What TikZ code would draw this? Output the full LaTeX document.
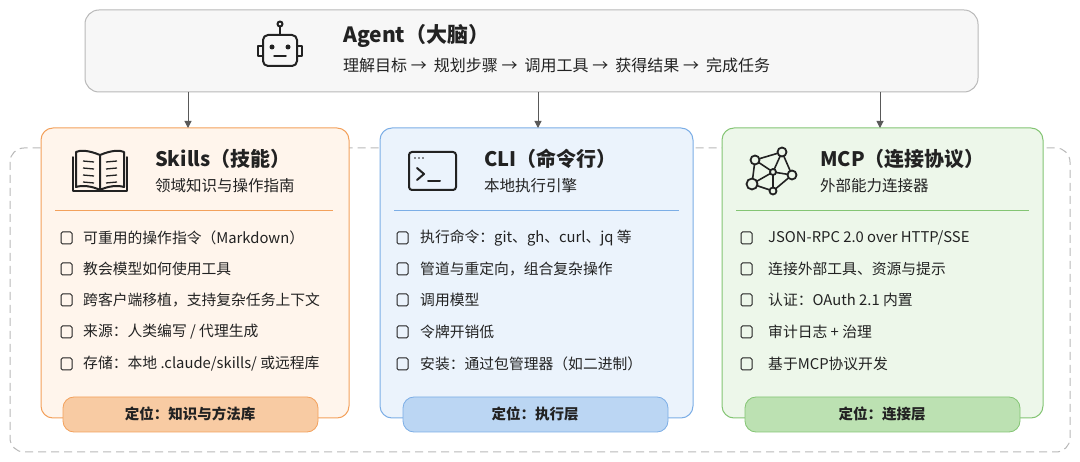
\documentclass[tikz,border=0pt]{standalone}
\usepackage{fontspec}
\setmainfont{Noto Sans CJK SC}
\usetikzlibrary{arrows.meta,positioning}
\definecolor{skillline}{HTML}{F3A15C}
\definecolor{skillfill}{HTML}{FFF5EC}
\definecolor{skillpill}{HTML}{F8CBA3}
\definecolor{cliline}{HTML}{7CAEE6}
\definecolor{clifill}{HTML}{EBF3FC}
\definecolor{clipill}{HTML}{BBD6F3}
\definecolor{mcpline}{HTML}{84C574}
\definecolor{mcpfill}{HTML}{EDF7EA}
\definecolor{mcppill}{HTML}{BCE1B2}
\definecolor{txt}{HTML}{222222}
\tikzset{
  card/.style={draw=#1line, fill=#1fill, rounded corners=12pt, line width=1pt},
  pill/.style={draw=#1line, fill=#1pill, rounded corners=11pt, line width=0.8pt},
  title/.style={anchor=west, font=\fontsize{20}{24}\selectfont\bfseries, text=txt, inner sep=0pt},
  sub/.style={anchor=west, font=\fontsize{15.5}{18}\selectfont, text=txt, inner sep=0pt},
  item/.style={anchor=west, font=\fontsize{14.8}{17}\selectfont, text=txt, inner sep=0pt},
  pilltxt/.style={font=\fontsize{14.5}{17}\selectfont\bfseries, text=txt, inner sep=0pt},
  ico/.style={draw=txt, line width=1pt, rounded corners=1.5pt},
  bigico/.style={draw=txt, line width=2pt, line cap=round, line join=round},
  feed/.style={-{Triangle[width=7pt,length=7pt]}, draw=gray!70!black, line width=1pt}
}
\begin{document}
\begin{tikzpicture}[x=1pt,y=-1pt]
\useasboundingbox (0,0) rectangle (1080,462);
\fill[white] (0,0) rectangle (1080,462);
% outer dashed frame
\draw[gray!55, dashed, dash pattern=on 8pt off 5pt, line width=1pt, rounded corners=14pt] (10,148) rectangle (1070,452);
% agent
\draw[fill=gray!6, draw=gray!55, line width=1pt, rounded corners=14pt] (85,10) rectangle (978,92);
\node (agent) at (531,51) {};
\draw[bigico, rounded corners=5pt] (263,35) rectangle (297,66);
\draw[bigico] (280,35) -- (280,27); \draw[bigico] (280,24) circle (2.5pt);
\draw[bigico] (263,46) -- (258,46) -- (258,56) -- (263,56);
\draw[bigico] (297,46) -- (302,46) -- (302,56) -- (297,56);
\fill[txt] (272,47) circle (2.5pt); \fill[txt] (288,47) circle (2.5pt);
\draw[bigico, line width=1.5pt] (274,56) -- (286,56);
\node[title, font=\fontsize{21}{25}\selectfont\bfseries] (agentT) at (343,36) {Agent（大脑）};
\node[sub, font=\fontsize{16}{19}\selectfont] (agentS) at (343,65) {理解目标\ → \ 规划步骤\ → \ 调用工具\ → \ 获得结果\ → \ 完成任务};
% cards
\draw[card=skill] (41,128) rectangle (349,418);
\draw[card=cli] (380,128) rectangle (693,418);
\draw[card=mcp] (722,128) rectangle (1043,418);
\coordinate (skillTop) at (188,128);
\coordinate (cliTop) at (538,128);
\coordinate (mcpTop) at (880,128);
\draw[feed] (188,92) -- (skillTop);
\draw[feed] (538,92) -- (cliTop);
\draw[feed] (880,92) -- (mcpTop);
\draw[skillline, line width=1pt] (55,211) -- (333,211);
\draw[cliline, line width=1pt] (394,211) -- (679,211);
\draw[mcpline, line width=1pt] (736,211) -- (1029,211);
% pills
\draw[pill=skill] (63,397) rectangle (318,432);
\draw[pill=cli] (403,397) rectangle (668,432);
\draw[pill=mcp] (745,397) rectangle (1020,432);
\node[pilltxt] (skillPos) at (190,414) {定位：知识与方法库};
\node[pilltxt] (cliPos) at (535,414) {定位：执行层};
\node[pilltxt] (mcpPos) at (882,414) {定位：连接层};
% big icons
\draw[bigico] (100,155) .. controls (88,150) and (80,150) .. (76,152) -- (76,187) .. controls (82,185) and (92,186) .. (100,190) .. controls (108,186) and (118,185) .. (124,187) -- (124,152) .. controls (120,150) and (112,150) .. (100,155) -- (100,190);
\draw[bigico, line width=1.5pt] (73,157) -- (73,191) -- (127,191) -- (127,157);
\foreach \yy in {161,168,175,182} {
  \draw[txt, line width=1.3pt] (83,\yy) -- (94,\yy+1);
  \draw[txt, line width=1.3pt] (106,\yy+1) -- (117,\yy);
}
\draw[bigico, rounded corners=3pt] (409,152) rectangle (456,190);
\foreach \xx in {415,419,423} \fill[txt] (\xx,158) circle (0.9pt);
\draw[bigico] (417,168) -- (424,174) -- (417,180);
\draw[bigico] (428,181) -- (440,181);
\coordinate (n1) at (755,160); \coordinate (n2) at (782,152); \coordinate (n3) at (792,175);
\coordinate (n4) at (773,172); \coordinate (n5) at (752,184); \coordinate (n6) at (773,191);
\foreach \a/\b in {n1/n2,n1/n4,n2/n4,n2/n3,n3/n4,n4/n5,n4/n6,n5/n6,n1/n5,n3/n6}
  \draw[txt, line width=1.6pt] (\a) -- (\b);
\foreach \n/\r in {n1/4.5,n2/4.5,n3/4.5,n4/3,n5/5.5,n6/3.5}
  \filldraw[draw=txt, fill=mcpfill, line width=1.8pt] (\n) circle (\r pt);
% titles
\node[title] (skillT) at (155,159) {Skills（技能）};
\node[sub] (skillS) at (155,186) {领域知识与操作指南};
\node[title] (cliT) at (484,159) {CLI（命令行）};
\node[sub] (cliS) at (484,186) {本地执行引擎};
\node[title] (mcpT) at (820,159) {MCP（连接协议）};
\node[sub] (mcpS) at (820,186) {外部能力连接器};
% items
\foreach \yy/\t [count=\i] in {238/{可重用的操作指令（Markdown）},269/{教会模型如何使用工具},300/{跨客户端移植，支持复杂任务上下文},332/{来源：人类编写 / 代理生成},364/{存储：本地 .claude/skills/ 或远程库}} {
  \draw[ico] (61,\yy-6) rectangle (72,\yy+6);
  \node[item] (skill\i) at (83,\yy) {\t};
}
\foreach \yy/\t [count=\i] in {238/{执行命令：git、gh、curl、jq 等},269/{管道与重定向，组合复杂操作},300/{调用模型},332/{令牌开销低},364/{安装：通过包管理器（如二进制）}} {
  \draw[ico] (397,\yy-6) rectangle (408,\yy+6);
  \node[item] (cli\i) at (420,\yy) {\t};
}
\foreach \yy/\t [count=\i] in {238/{JSON-RPC 2.0 over HTTP/SSE},269/{连接外部工具、资源与提示},300/{认证：OAuth 2.1 内置},332/{审计日志 + 治理},364/{基于MCP协议开发}} {
  \draw[ico] (741,\yy-6) rectangle (752,\yy+6);
  \node[item] (mcp\i) at (768,\yy) {\t};
}
\end{tikzpicture}
\end{document}
